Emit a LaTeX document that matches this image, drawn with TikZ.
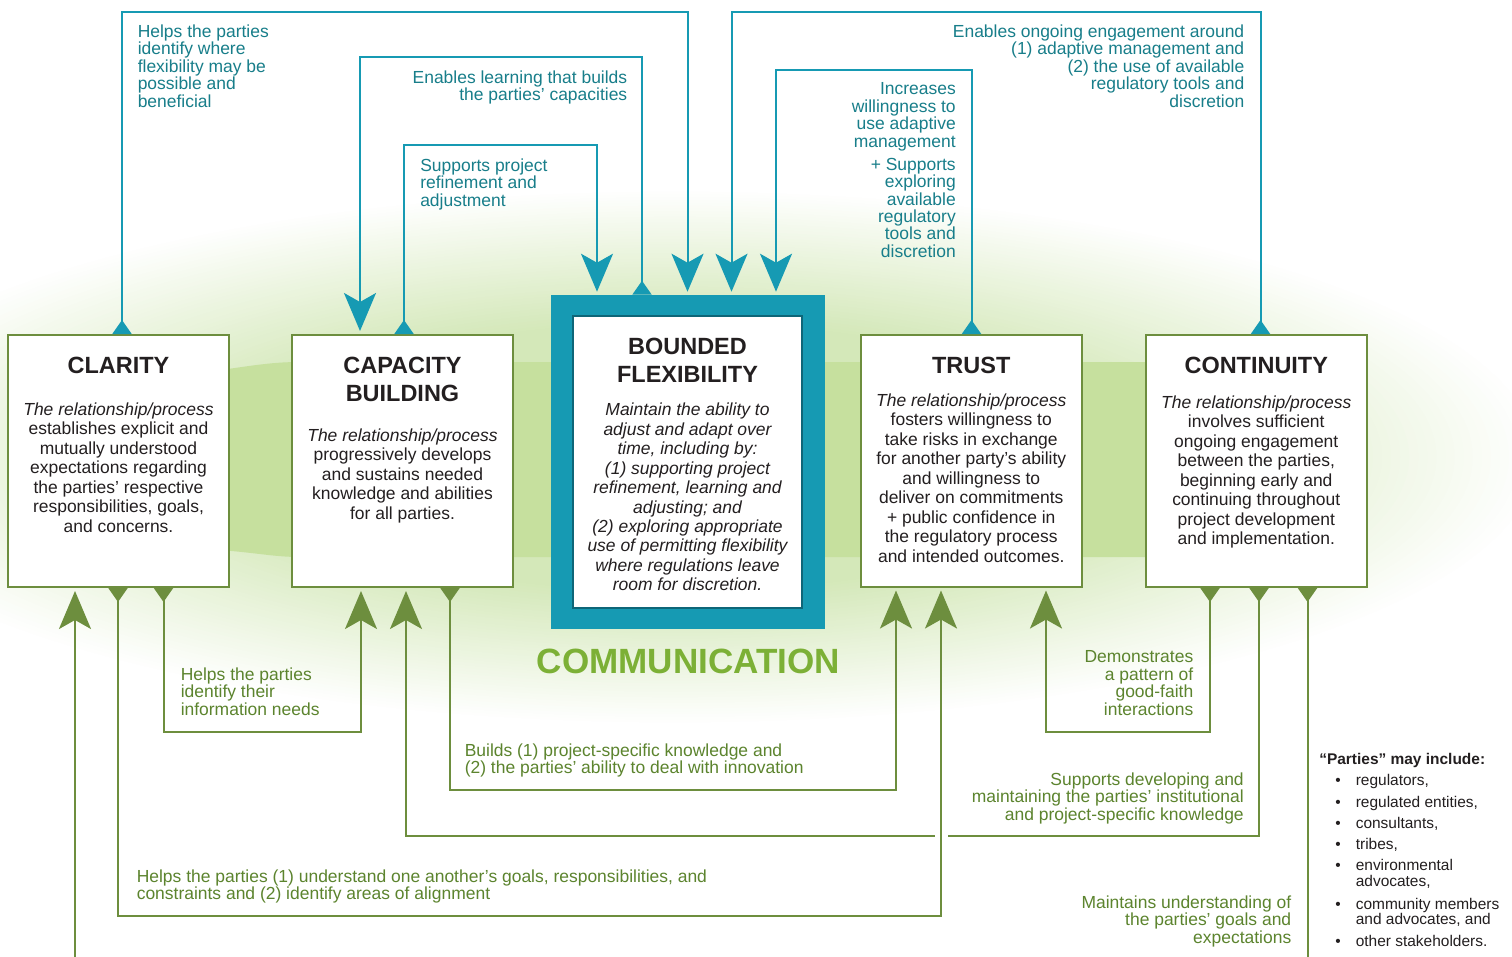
\documentclass[tikz,border=0pt]{standalone}
\usepackage{fontspec}
\setmainfont{Liberation Sans}
\usetikzlibrary{arrows.meta,calc,fit}

\definecolor{tealline}{RGB}{22,154,179}
\definecolor{tealtext}{RGB}{24,126,138}
\definecolor{tealdark}{RGB}{14,102,120}
\definecolor{greenline}{RGB}{109,142,62}
\definecolor{greentext}{RGB}{92,132,46}
\definecolor{commgreen}{RGB}{124,176,54}
\definecolor{ink}{RGB}{35,31,32}
\definecolor{band}{RGB}{198,224,158}
\definecolor{glowA}{RGB}{212,232,185}

\tikzset{
  bigtip/.tip={Stealth[length=28.5pt,width=24pt,inset=6.75pt]},
  smalltip/.tip={Triangle[reversed,length=10.5pt,width=14.25pt]},
  boxnode/.style={draw=greenline,line width=1.5pt,fill=white,inner sep=0pt},
  tealflow/.style={draw=tealline,line width=1.5pt,{smalltip}-{bigtip},shorten >=2.25pt},
  greenflow/.style={draw=greenline,line width=1.5pt,{smalltip}-{bigtip},shorten >=2.25pt},
  lbl/.style={inner sep=0pt,font=\fontsize{13.1}{13.1}\selectfont},
  tlbl/.style={lbl,text=tealtext},
  glbl/.style={lbl,text=greentext},
  ttl/.style={inner sep=0pt,align=center,anchor=north,text=ink,
    font=\fontsize{17.6}{21}\selectfont\bfseries},
  bodytxt/.style={inner sep=0pt,align=center,anchor=north,text=ink,
    font=\fontsize{13.1}{14.6}\selectfont},
}

\begin{document}
\begin{tikzpicture}[x=0.75pt,y=-0.75pt]
\useasboundingbox (0,0) rectangle (1512,956);
\clip (0,0) rectangle (1512,956);
\fill[white] (0,0) rectangle (1512,956);

% soft green glow: nested ellipses growing greener towards the centre
\foreach \i [evaluate=\i as \s using 1-\i*0.5/48,
             evaluate=\i as \p using \i*100/48] in {0,...,48}
  \fill[glowA!\p!white] (675,457) ellipse [x radius=870*\s, y radius=268*\s];

% band behind the five principles
\fill[band] (200,373) .. controls (250,366) and (270,362) .. (300,362)
  -- (1300,362) -- (1300,557) -- (300,557)
  .. controls (270,557) and (250,551) .. (200,549) -- cycle;

% principle boxes
\node[boxnode,fit={(8,335) (229,587)}] (clarity) {};
\node[boxnode,fit={(292,335) (513,587)}] (capacity) {};
\node[fill=tealline,inner sep=0pt,fit={(551,295) (825,629)}] (bfout) {};
\node[draw=tealdark,line width=1.1pt,fill=white,inner sep=0pt,fit={(573,316) (802,608)}] (bfin) {};
\node[boxnode,fit={(860.5,335) (1082,586.5)}] (trust) {};
\node[boxnode,fit={(1145.5,335) (1367,587)}] (continuity) {};

% box texts
\node[ttl] (clarityT) at ($(clarity.north)+(0,22.6)$) {CLARITY};
\node[bodytxt] (clarityB) at ($(clarity.north)+(0,68.5)$)
  {\textit{The relationship/process}\\establishes explicit and\\mutually understood\\expectations regarding\\the parties’ respective\\responsibilities, goals,\\and concerns.};

\node[ttl] (capacityT) at ($(capacity.north)+(0,22.5)$) {CAPACITY\\BUILDING};
\node[bodytxt] (capacityB) at ($(capacity.north)+(0,94.5)$)
  {\textit{The relationship/process}\\progressively develops\\and sustains needed\\knowledge and abilities\\for all parties.};

\node[ttl] (bfT) at ($(bfin.north)+(0,22.5)$) {BOUNDED\\FLEXIBILITY};
\node[bodytxt,font=\fontsize{13.1}{14.6}\selectfont\itshape] (bfB) at ($(bfin.north)+(0,87.5)$)
  {Maintain the ability to\\adjust and adapt over\\time, including by:\\(1) supporting project\\refinement, learning and\\adjusting; and\\(2) exploring appropriate\\use of permitting flexibility\\where regulations leave\\room for discretion.};

\node[ttl] (trustT) at ($(trust.north)+(0,22.5)$) {TRUST};
\node[bodytxt] (trustB) at ($(trust.north)+(0,59.5)$)
  {\textit{The relationship/process}\\fosters willingness to\\take risks in exchange\\for another party’s ability\\and willingness to\\deliver on commitments\\+ public confidence in\\the regulatory process\\and intended outcomes.};

\node[ttl] (continuityT) at ($(continuity.north)+(0,22.5)$) {CONTINUITY};
\node[bodytxt] (continuityB) at ($(continuity.north)+(0,61.5)$)
  {\textit{The relationship/process}\\involves sufficient\\ongoing engagement\\between the parties,\\beginning early and\\continuing throughout\\project development\\and implementation.};

\node[inner sep=0pt,text=commgreen,font=\fontsize{26.3}{26.3}\selectfont\bfseries] (comm) at (688.5,661) {COMMUNICATION};

% teal connectors above the boxes
\draw[tealflow] (122,0 |- clarity.north) -- (122,12) -- (687.5,12) -- (687.5,0 |- bfout.north);
\draw[tealflow] (642,0 |- bfout.north) -- (642,57) -- (360,57) -- (360,0 |- capacity.north);
\draw[tealflow] (404,0 |- capacity.north) -- (404,145) -- (597,145) -- (597,0 |- bfout.north);
\draw[tealflow] (971.5,0 |- trust.north) -- (971.5,70) -- (776,70) -- (776,0 |- bfout.north);
\draw[tealflow] (1260.5,0 |- continuity.north) -- (1260.5,12) -- (731.5,12) -- (731.5,0 |- bfout.north);

% green connectors below the boxes
\draw[greenflow] (1307.5,0 |- continuity.south) -- (1307.5,1000) -- (75,1000) -- (75,0 |- clarity.south);
\draw[greenflow] (163.5,0 |- clarity.south) -- (163.5,732) -- (361,732) -- (361,0 |- capacity.south);
\draw[greenflow] (450,0 |- capacity.south) -- (450,790) -- (896,790) -- (896,0 |- trust.south);
\draw[greenflow] (1210,0 |- continuity.south) -- (1210,732) -- (1046,732) -- (1046,0 |- trust.south);
\draw[greenflow] (1259,0 |- continuity.south) -- (1259,836) -- (406,836) -- (406,0 |- capacity.south);
\fill[white] (934.5,831) rectangle (947.5,841);
\draw[greenflow] (118,0 |- clarity.south) -- (118,916) -- (941,916) -- (941,0 |- trust.south);

% teal labels
\node[tlbl,anchor=north west,align=left] (l1) at (137.5,24.5)
  {Helps the parties\\identify where\\flexibility may be\\possible and\\beneficial};
\node[tlbl,anchor=north east,align=right] (l2) at (627.5,70.5)
  {Enables learning that builds\\the parties’ capacities};
\node[tlbl,anchor=north west,align=left] (l3) at (420,158.5)
  {Supports project\\refinement and\\adjustment};
\node[tlbl,anchor=north east,align=right] (l4) at (956,82.5)
  {Increases\\willingness to\\use adaptive\\management\\[4.1pt]+ Supports\\exploring\\available\\regulatory\\tools and\\discretion};
\node[tlbl,anchor=north east,align=right] (l5) at (1244.5,24.5)
  {Enables ongoing engagement around\\(1) adaptive management and\\(2) the use of available\\regulatory tools and\\discretion};

% green labels
\node[glbl,anchor=north west,align=left] (l6) at (180.5,667.5)
  {Helps the parties\\identify their\\information needs};
\node[glbl,anchor=north west,align=left] (l7) at (464.5,743.5)
  {Builds (1) project-specific knowledge and\\(2) the parties’ ability to deal with innovation};
\node[glbl,anchor=north west,align=left] (l8) at (136.5,869.5)
  {Helps the parties (1) understand one another’s goals, responsibilities, and\\constraints and (2) identify areas of alignment};
\node[glbl,anchor=north east,align=right] (l9) at (1193.5,650.5)
  {Demonstrates\\a pattern of\\good-faith\\interactions};
\node[glbl,anchor=north east,align=right] (l10) at (1244,772.5)
  {Supports developing and\\maintaining the parties’ institutional\\and project-specific knowledge};
\node[glbl,anchor=north east,align=right] (l11) at (1291.5,895.5)
  {Maintains understanding of\\the parties’ goals and\\expectations};

% list of parties
\node[inner sep=0pt,anchor=north west,text=ink,font=\fontsize{11.6}{11.25}\selectfont\bfseries] (phead) at (1319,753) {“Parties” may include:};
\node[inner sep=0pt,anchor=north west,text=ink,font=\fontsize{11.6}{11.25}\selectfont] (plist) at (1335,774.5)
  {\begin{tabular}{@{}p{15.4pt}@{}l@{}}
  •&regulators,\\[4.1pt]
  •&regulated entities,\\[4.1pt]
  •&consultants,\\[4.1pt]
  •&tribes,\\[4.1pt]
  •&environmental\\
   &advocates,\\[5.2pt]
  •&community members\\
   &and advocates, and\\[4.5pt]
  •&other stakeholders.
  \end{tabular}};
\end{tikzpicture}
\end{document}
